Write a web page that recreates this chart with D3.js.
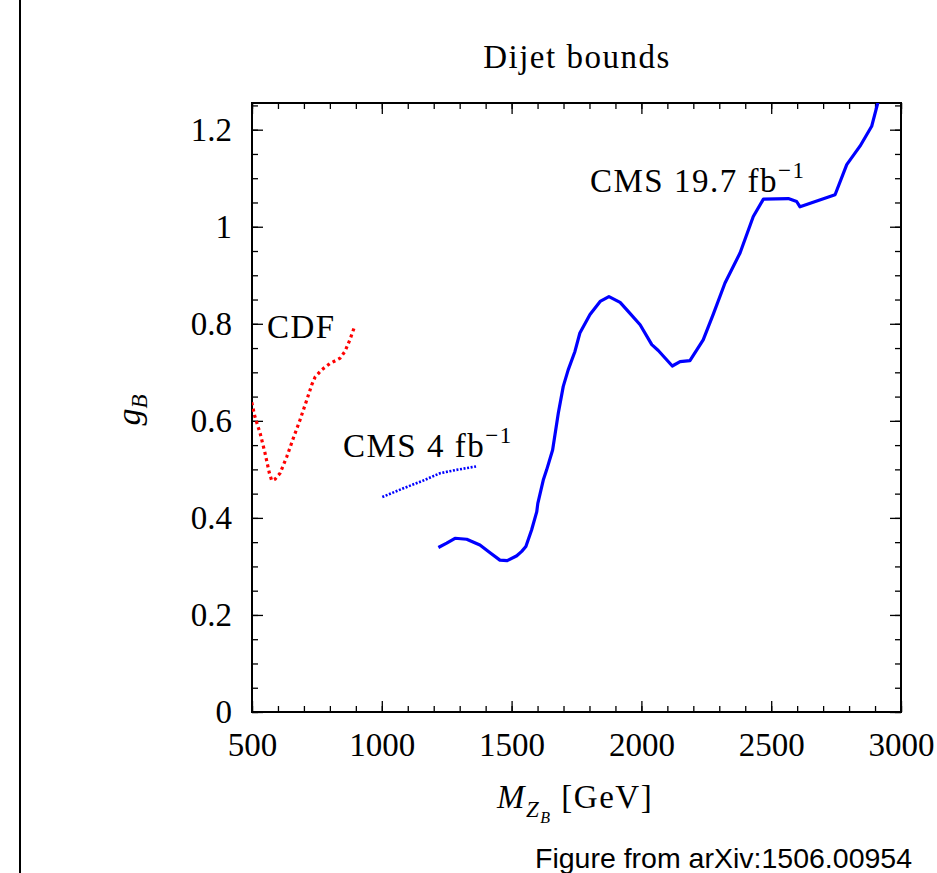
<!DOCTYPE html>
<html><head><meta charset="utf-8">
<script src="https://cdnjs.cloudflare.com/ajax/libs/d3/7.8.5/d3.min.js"></script>
<style>
body{margin:0;background:#fff;}
svg{display:block;}
.serif{font-family:"Liberation Serif","Times New Roman",serif;}
</style></head>
<body>
<svg id="chart" width="937" height="873"></svg>
<script>
// ---- data ----
const cdfMass = [499,511,531,550,567,576,589,608,634,659,685,711,730,743,768,800,839,858,877,893];
const cdfG    = [0.638,0.609,0.575,0.534,0.492,0.477,0.480,0.492,0.526,0.564,0.602,0.643,0.674,0.690,0.705,0.718,0.729,0.743,0.767,0.791];

const cms4Mass = [1002,1083,1160,1224,1288,1363];
const cms4G    = [0.443,0.461,0.477,0.492,0.499,0.506];

const cms20Mass = [1218,1250,1282,1327,1378,1417,1455,1483,1520,1539,1555,1577,1597,1601,1622,1635,1658,1680,1699,1718,1744,1763,1802,1841,1875,1918,1950,1995,2040,2065,2119,2149,2187,2238,2277,2322,2380,2431,2470,2566,2598,2611,2746,2791,2842,2887,2913];
const cms20G    = [0.339,0.348,0.358,0.356,0.344,0.328,0.313,0.312,0.322,0.331,0.341,0.375,0.413,0.430,0.478,0.499,0.540,0.616,0.671,0.705,0.743,0.781,0.819,0.846,0.856,0.844,0.825,0.798,0.757,0.745,0.713,0.722,0.724,0.767,0.820,0.884,0.946,1.021,1.057,1.058,1.052,1.041,1.066,1.128,1.166,1.207,1.260];

const xMajorTicks = [500,1000,1500,2000,2500,3000];
const yMajorTicks = [0,0.2,0.4,0.6,0.8,1,1.2];
const yTickLabels = ["0","0.2","0.4","0.6","0.8","1","1.2"];

const titleText = "Dijet bounds";
const sourceText = "Figure from arXiv:1506.00954";

// ---- layout ----
const svg = d3.select("#chart");
const L = 252, R = 901, T = 103, B = 712;
const x = d3.scaleLinear().domain([500,3000]).range([L,R]);
const y = d3.scaleLinear().domain([0,1.255]).range([B,T]);

const xMinor = d3.range(500,3001,100);
const yMinor = d3.range(0,1.2501,0.05);

// left page rule
svg.append("line").attr("x1",20).attr("x2",20).attr("y1",0).attr("y2",873)
  .attr("stroke","#000").attr("stroke-width",2);

const defs = svg.append("defs");
defs.append("clipPath").attr("id","clip").append("rect")
  .attr("x",L).attr("y",T).attr("width",R-L).attr("height",B-T);

function styleAxis(g){
  g.select(".domain").remove();
  g.selectAll(".tick line").attr("stroke","#000").attr("stroke-width",1.3);
}
// minor ticks
svg.append("g").attr("transform",`translate(0,${B})`)
  .call(d3.axisBottom(x).tickValues(xMinor).tickSize(-6).tickFormat(""))
  .call(styleAxis);
svg.append("g").attr("transform",`translate(0,${T})`)
  .call(d3.axisTop(x).tickValues(xMinor).tickSize(-6).tickFormat(""))
  .call(styleAxis);
svg.append("g").attr("transform",`translate(${L},0)`)
  .call(d3.axisLeft(y).tickValues(yMinor).tickSize(-6).tickFormat(""))
  .call(styleAxis);
svg.append("g").attr("transform",`translate(${R},0)`)
  .call(d3.axisRight(y).tickValues(yMinor).tickSize(-6).tickFormat(""))
  .call(styleAxis);
// major ticks with labels
svg.append("g").attr("transform",`translate(0,${B})`)
  .call(d3.axisBottom(x).tickValues(xMajorTicks).tickSize(-11).tickPadding(21).tickFormat(d3.format("d")))
  .call(styleAxis);
svg.append("g").attr("transform",`translate(0,${T})`)
  .call(d3.axisTop(x).tickValues(xMajorTicks).tickSize(-11).tickFormat(""))
  .call(styleAxis);
svg.append("g").attr("transform",`translate(${L},0)`)
  .call(d3.axisLeft(y).tickValues(yMajorTicks).tickSize(-11).tickPadding(20).tickFormat((d,i)=>yTickLabels[i]))
  .call(styleAxis);
svg.append("g").attr("transform",`translate(${R},0)`)
  .call(d3.axisRight(y).tickValues(yMajorTicks).tickSize(-11).tickFormat(""))
  .call(styleAxis);
svg.selectAll(".tick text").attr("class","serif").attr("font-size",33).attr("fill","#000");

// frame
svg.append("rect").attr("x",L).attr("y",T).attr("width",R-L).attr("height",B-T)
  .attr("fill","none").attr("stroke","#000").attr("stroke-width",2);

// curves
const line = d3.line().x(d=>x(d[0])).y(d=>y(d[1]));
const plot = svg.append("g").attr("clip-path","url(#clip)");
plot.append("path").datum(d3.zip(cdfMass,cdfG)).attr("d",line)
  .attr("fill","none").attr("stroke","#ff0000").attr("stroke-width",3.2).attr("stroke-dasharray","3,3.4");
plot.append("path").datum(d3.zip(cms4Mass,cms4G)).attr("d",line)
  .attr("fill","none").attr("stroke","#0000ff").attr("stroke-width",2.6).attr("stroke-dasharray","2,1.6");
plot.append("path").datum(d3.zip(cms20Mass,cms20G)).attr("d",line)
  .attr("fill","none").attr("stroke","#0000ff").attr("stroke-width",3.2).attr("stroke-linejoin","round");

// texts
function lab(xp,yp,parts,anchor){
  const t = svg.append("text").attr("class","serif").attr("x",xp).attr("y",yp)
    .attr("font-size",33).attr("letter-spacing",1.5).attr("text-anchor",anchor||"start").attr("fill","#000");
  parts.forEach(p=>{
    const ts=t.append("tspan").text(p.t);
    if(p.sup){ts.attr("font-size",23).attr("dy",-14);}
    if(p.sub){ts.attr("font-size",p.fs||23).attr("dy",p.dy);}
    if(p.it) ts.attr("font-style","italic");
    if(p.dy!==undefined && !p.sub && !p.sup) ts.attr("dy",p.dy);
  });
  return t;
}
lab(577,68,[{t:titleText}],"middle");
lab(590,192,[{t:"CMS 19.7 fb"},{t:"\u22121",sup:true}]);
lab(267,338,[{t:"CDF"}]);
lab(343,457,[{t:"CMS 4 fb"},{t:"\u22121",sup:true}]);
// x label
lab(497,808,[{t:"M",it:true},{t:"Z",it:true,sub:true,dy:9,fs:23},{t:"B",it:true,sub:true,dy:6,fs:16},{t:" [GeV]",dy:-15}]);
// y label
svg.append("text").attr("class","serif").attr("transform","translate(140,410) rotate(-90)")
  .attr("text-anchor","middle").attr("font-size",34).attr("fill","#000")
  .call(t=>{t.append("tspan").attr("font-style","italic").text("g");
            t.append("tspan").attr("font-style","italic").attr("font-size",23).attr("dy",7).text("B");});
// source
svg.append("text").attr("x",535).attr("y",868).attr("font-family","'Liberation Sans',Arial,sans-serif")
  .attr("font-size",28.5).attr("fill","#000").text(sourceText);
</script>
</body></html>
